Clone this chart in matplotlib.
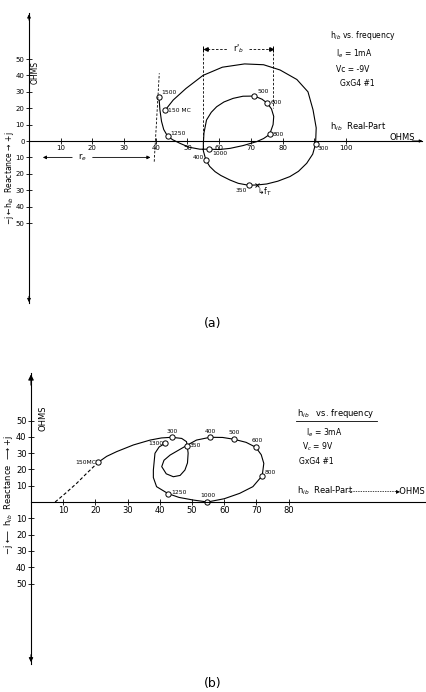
import matplotlib
matplotlib.use("Agg")
import matplotlib.pyplot as plt
from matplotlib.lines import Line2D

# ---- panel (a): hib vs frequency, Ie = 1mA, Vc = -9V
a_labels = ["150 MC", "300", "350", "400", "500", "600", "800", "1000", "1250", "1500"]
a_real = [43.0, 90.4, 69.3, 55.8, 71.1, 75.2, 75.9, 56.9, 43.7, 41.0]
a_imag = [18.9, -1.8, -27.0, -11.6, 27.4, 23.0, 4.0, -5.0, 3.0, 26.8]

a_curve_x = [43.0, 45.5, 49.5, 54.9, 61.0, 68.0, 74.0, 79.2, 84.5, 88.0, 89.6, 90.6,
             90.4, 89.5, 87.6, 85.0, 82.3, 78.5, 75.0, 72.0, 69.3, 66.0, 63.4, 60.5,
             58.7, 57.0, 55.8, 55.0, 55.0, 55.2, 56.0, 57.5, 59.2, 61.5, 64.4, 67.5,
             71.1, 73.5, 75.2, 76.5, 77.2, 77.0, 75.9, 74.0, 71.8, 67.5, 63.4, 60.0,
             56.9, 53.9, 50.5, 47.6, 45.3, 43.7, 42.5, 41.8, 41.3, 41.0]
a_curve_y = [18.9, 25.0, 32.0, 40.0, 45.0, 47.0, 46.5, 43.3, 37.5, 30.0, 19.0, 8.0,
             -1.8, -8.0, -13.6, -18.5, -21.7, -24.5, -26.2, -26.8, -27.0, -25.8, -23.8, -21.0,
             -18.7, -15.5, -11.6, -6.0, -1.4, 5.0, 12.8, 17.5, 20.9, 23.8, 26.0, 27.3,
             27.4, 25.5, 23.0, 19.5, 15.0, 10.0, 4.0, 1.5, -0.4, -2.8, -4.5, -5.2,
             -5.0, -5.0, -3.8, -1.4, 0.8, 3.0, 7.0, 12.0, 19.0, 26.8]

a_fT = (72.0, -26.8)
a_xticks = [10, 20, 30, 40, 50, 60, 70, 80, 90, 100]
a_xticklabels = ["10", "20", "30", "40", "50", "60", "70", "80", "", "100"]
a_yticks = [-50, -40, -30, -20, -10, 0, 10, 20, 30, 40, 50]

# ---- panel (b): hib vs frequency, Ie = 3mA, Vc = 9V
b_labels = ["150MC", "300", "350", "400", "500", "600", "800", "1000", "1250", "1300"]
b_real = [20.9, 43.7, 48.5, 55.6, 63.0, 69.8, 71.8, 54.8, 42.6, 41.7]
b_imag = [24.4, 39.7, 34.5, 39.7, 38.5, 33.6, 16.1, 0.0, 5.1, 36.0]

b_dash_x = [7.5, 10.8, 14.2, 17.3, 20.9]
b_dash_y = [0.0, 5.5, 11.5, 17.6, 24.4]

b_curve_x = [20.9, 23.5, 26.6, 31.8, 37.0, 40.5, 43.7, 46.8, 48.3, 48.5, 48.8, 48.6,
             47.8, 46.3, 44.2, 42.0, 40.6, 41.3, 43.2, 46.0, 48.8, 51.4, 55.6, 59.5,
             63.0, 66.8, 69.8, 71.5, 72.3, 71.8, 68.9, 64.8, 60.0, 54.8, 50.4, 46.0,
             42.6, 39.0, 38.0, 38.0, 38.5, 39.8, 41.7]
b_curve_y = [24.4, 28.0, 30.9, 35.0, 38.0, 39.3, 39.7, 39.0, 37.0, 34.5, 30.0, 24.0,
             19.6, 16.3, 15.5, 17.3, 21.7, 25.6, 28.8, 32.0, 35.2, 38.0, 39.7, 39.6,
             38.5, 36.6, 33.6, 29.0, 23.7, 16.1, 9.4, 5.3, 2.0, 0.0, 1.2, 2.8,
             5.1, 9.4, 15.0, 19.6, 29.9, 33.8, 36.0]

b_xticks = [10, 20, 30, 40, 50, 60, 70, 80]
b_yticks = [-50, -40, -30, -20, -10, 10, 20, 30, 40, 50]

W, H = 426, 692


def fx(x):
    return x / W


def fy(y):
    return 1 - y / H


def setup_axes(ax, xticks, xlabels, yticks, ybounds, xmax, fs):
    for side in ["top", "right"]:
        ax.spines[side].set_visible(False)
    for side in ["left", "bottom"]:
        ax.spines[side].set_position(("data", 0))
        ax.spines[side].set_linewidth(0.8)
    ax.spines["left"].set_bounds(*ybounds)
    ax.spines["bottom"].set_bounds(0, xmax)
    ax.set_xticks(xticks)
    ax.set_xticklabels(xlabels)
    ax.set_yticks(yticks)
    ax.set_yticklabels([str(abs(v)) for v in yticks])
    ax.tick_params(direction="inout", length=4, width=0.6, labelsize=fs, pad=1.2)
    ax.patch.set_alpha(0)


def point_labels(ax, xs, ys, labels, offsets):
    for x, y, lab, (dx, dy, ha) in zip(xs, ys, labels, offsets):
        ax.annotate(lab, (x, y), xytext=(dx, dy), textcoords="offset points",
                    ha=ha, va="center", fontsize=4.3)


dash = (0, (3, 2))
fig = plt.figure(figsize=(W / 100, H / 100), dpi=100)

# ---------------- panel (a)
ax_a = fig.add_axes([0, 1 - 330 / H, 1, 330 / H])
ax_a.set_xlim(-29 / 3.17, (W - 29) / 3.17)
ax_a.set_ylim(-(330 - 141) / 1.64, 141 / 1.64)
setup_axes(ax_a, a_xticks, a_xticklabels, a_yticks, (-99, 78), 124, 5)

ax_a.annotate("", xy=(0, 79), xytext=(0, 72),
              arrowprops=dict(arrowstyle="-|>", color="k", lw=0.7, mutation_scale=5))
ax_a.annotate("", xy=(0, -100), xytext=(0, -93),
              arrowprops=dict(arrowstyle="-|>", color="k", lw=0.7, mutation_scale=5))
ax_a.annotate("", xy=(125, 0), xytext=(120, 0),
              arrowprops=dict(arrowstyle="-|>", color="k", lw=0.7, mutation_scale=4))

ax_a.plot(a_curve_x, a_curve_y, color="k", lw=0.8)
ax_a.plot(a_real, a_imag, "o", ms=3.8, mfc="white", mec="k", mew=0.7)
ax_a.plot(*a_fT, "x", ms=3.5, color="k", mew=0.7)
ax_a.annotate("\u21b3f$_T$", a_fT, xytext=(0, -5), textcoords="offset points",
              ha="left", va="center", fontsize=5.5)

a_offsets = [(2, 0, "left"), (1.5, -3.5, "left"), (-1, -3.5, "right"), (-1, 2, "right"),
             (2, 3.5, "left"), (2, 0.5, "left"), (2, 0, "left"), (2, -3, "left"),
             (2, 2, "left"), (2, 3.5, "left")]
point_labels(ax_a, a_real, a_imag, a_labels, a_offsets)

# r_e extent arrows
ax_a.annotate("", xy=(3.5, -10), xytext=(14.5, -10),
              arrowprops=dict(arrowstyle="-|>", color="k", lw=0.6, mutation_scale=5))
ax_a.annotate("", xy=(39.2, -10), xytext=(19.2, -10),
              arrowprops=dict(arrowstyle="-|>", color="k", lw=0.6, mutation_scale=5))
ax_a.text(16.8, -10, "r$_e$", ha="center", va="center", fontsize=6)
ax_a.plot([39.5, 41.1], [-12.6, 41.3], color="k", lw=0.6, ls=dash)

# r'_b bracket
ax_a.plot([54.9, 54.9], [56, -5], color="k", lw=0.6, ls=dash)
ax_a.plot([77.0, 77.0], [56, 20], color="k", lw=0.6, ls=dash)
ax_a.plot([54.9, 62.5], [56, 56], color="k", lw=0.6, ls=dash)
ax_a.plot([69.5, 77.0], [56, 56], color="k", lw=0.6, ls=dash)
ax_a.plot([54.9, 77.0], [56, 56], "|", ms=4, mew=0.7, color="k")
ax_a.plot([55.7], [56], "<", ms=2.5, color="k")
ax_a.plot([76.2], [56], ">", ms=2.5, color="k")
ax_a.text(66, 56, "r$'_b$", ha="center", va="center", fontsize=6)

fig.text(fx(10), fy(178), "\u2212j \u2190h$_{ib}$  Reactance \u2192 +j", rotation=90,
         ha="center", va="center", fontsize=5.5)
fig.text(fx(35), fy(72), "OHMS", rotation=90, ha="center", va="center", fontsize=5.5)
fig.text(fx(330), fy(35), "h$_{ib}$ vs. frequency", ha="left", va="center", fontsize=5.5)
fig.text(fx(336), fy(54), "I$_e$ = 1mA", ha="left", va="center", fontsize=5.5)
fig.text(fx(336), fy(70), "Vc = -9V", ha="left", va="center", fontsize=5.5)
fig.text(fx(340), fy(84), "GxG4 #1", ha="left", va="center", fontsize=5.5)
fig.text(fx(330), fy(127), "h$_{ib}$  Real-Part", ha="left", va="center", fontsize=6)
fig.text(fx(389), fy(137), "OHMS", ha="left", va="center", fontsize=6)
fig.text(fx(213), fy(323), "(a)", ha="center", va="center", fontsize=9)

# ---------------- panel (b)
ax_b = fig.add_axes([0, 0, 1, 362 / H])
ax_b.set_xlim(-31 / 3.22, (W - 31) / 3.22)
ax_b.set_ylim(-(H - 502) / 1.63, (502 - 330) / 1.63)
setup_axes(ax_b, b_xticks, [str(v) for v in b_xticks], b_yticks, (-99.4, 79),
           (W - 31) / 3.22, 6)

ax_b.annotate("", xy=(0, 80), xytext=(0, 70),
              arrowprops=dict(arrowstyle="-|>", color="k", lw=0.8, mutation_scale=8))
ax_b.annotate("", xy=(0, -100), xytext=(0, -92),
              arrowprops=dict(arrowstyle="-|>", color="k", lw=0.8, mutation_scale=6))

ax_b.plot(b_dash_x, b_dash_y, color="k", lw=0.8, ls=dash)
ax_b.plot(b_curve_x, b_curve_y, color="k", lw=0.8)
ax_b.plot(b_real, b_imag, "o", ms=3.8, mfc="white", mec="k", mew=0.7)

b_offsets = [(-1.5, 0, "right"), (0, 4.5, "center"), (2, 0, "left"), (0, 4.5, "center"),
             (0, 4.5, "center"), (1, 5, "center"), (2, 2, "left"), (0, 4.5, "center"),
             (2, 0.5, "left"), (-1, 0, "right")]
point_labels(ax_b, b_real, b_imag, b_labels, b_offsets)

fig.text(fx(9), fy(495), "\u2212j \u27f5  h$_{ib}$  Reactance  \u27f6 +j", rotation=90,
         ha="center", va="center", fontsize=6)
fig.text(fx(43), fy(418), "OHMS", rotation=90, ha="center", va="center", fontsize=6)
fig.text(fx(297), fy(413), "h$_{ib}$   vs. frequency", ha="left", va="center", fontsize=6)
fig.add_artist(Line2D([fx(296), fx(377)], [fy(421), fy(421)], color="k", lw=0.6,
                      transform=fig.transFigure))
fig.text(fx(306), fy(433), "I$_e$ = 3mA", ha="left", va="center", fontsize=5.5)
fig.text(fx(302), fy(447), "V$_c$ = 9V", ha="left", va="center", fontsize=5.5)
fig.text(fx(299), fy(461), "GxG4 #1", ha="left", va="center", fontsize=5.5)
fig.text(fx(297), fy(491), "h$_{ib}$  Real-Part", ha="left", va="center", fontsize=6)
fig.add_artist(Line2D([fx(348), fx(398)], [fy(491), fy(491)], color="k", lw=0.5,
                      ls=(0, (2, 1.5)), transform=fig.transFigure))
fig.text(fx(396), fy(491), "\u25b8OHMS", ha="left", va="center", fontsize=6)
fig.text(fx(213), fy(684), "(b)", ha="center", va="center", fontsize=9)

fig.savefig("out.png", dpi=100)
